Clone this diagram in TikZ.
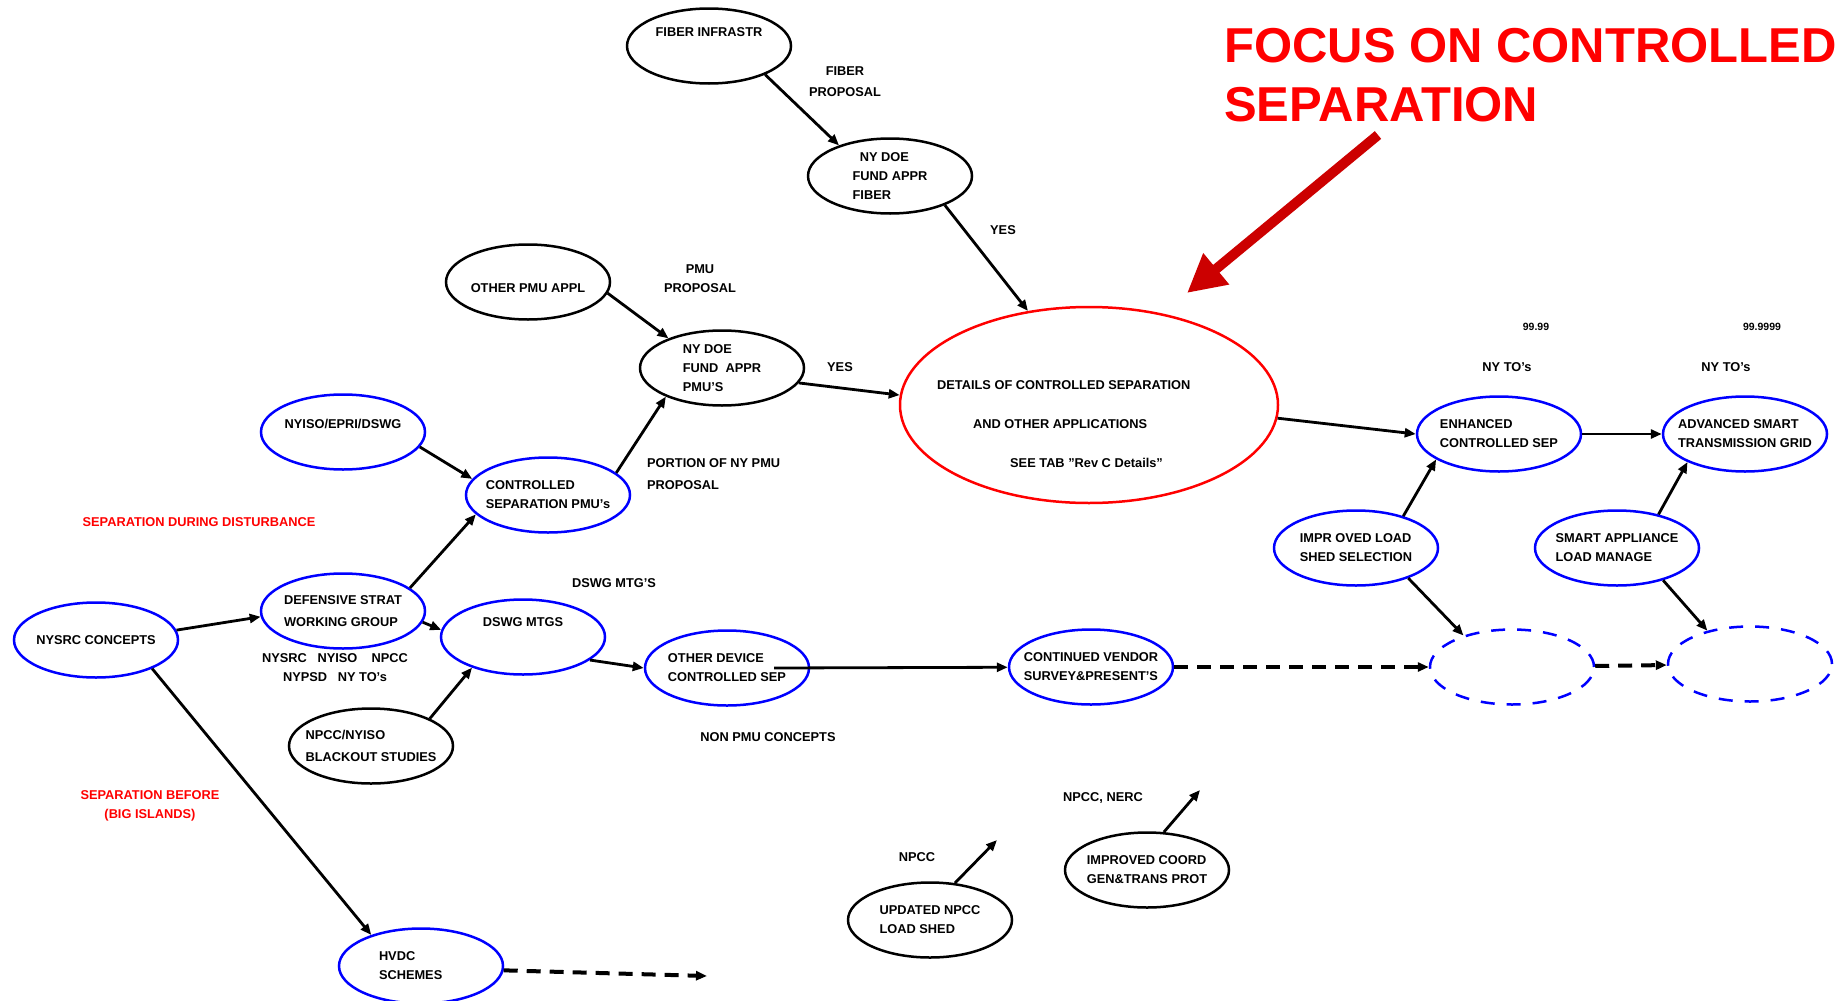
\documentclass[tikz,border=0pt]{standalone}
\usepackage{fontspec}
\setmainfont{Liberation Sans}
\usepackage{tikz}
\usetikzlibrary{arrows.meta,shapes.geometric}
\definecolor{focusred}{RGB}{204,0,0}

\begin{document}
\begin{tikzpicture}[x=1pt,y=-1pt,
    every node/.style={font=\fontsize{12.8}{19}\selectfont\bfseries},
    oval/.style={ellipse,draw,line width=2.5pt,minimum width=164pt,minimum height=75pt,inner xsep=-14pt,inner ysep=0pt,align=left},
    bluoval/.style={oval,draw=blue},
    ghost/.style={oval,draw=blue,dash pattern=on 14pt off 12pt},
    arr/.style={-{Triangle[length=11pt,width=9pt]},line width=2.8pt},
    dasharr/.style={arr,line width=4pt,dash pattern=on 14pt off 9pt},
    note/.style={align=center,inner sep=0pt},
    rednote/.style={note,text=red}]
            \useasboundingbox (0,0) rectangle (1839,1001);

            % top branch
            \node[oval,text depth=27pt] (fib) at (709,46) {FIBER INFRASTR};
            \node[oval] (doef) at (890,176) {\ \ NY DOE\\FUND APPR\\FIBER};
            \node[oval,text height=21pt] (opmu) at (528,282) {OTHER PMU APPL};
            \node[oval] (doep) at (722,368) {NY DOE\\FUND\ \ APPR\\PMU'S};
            \node[bluoval] (csp) at (548,495) {CONTROLLED\\SEPARATION PMU's};
            \node[bluoval,text depth=16pt] (nyiso) at (343,432) {NYISO/EPRI/DSWG};

            % left side
            \node[bluoval] (dsw) at (343,611) {DEFENSIVE STRAT\\[3pt]WORKING GROUP};
            \node[bluoval] (nysrc) at (96,640) {NYSRC CONCEPTS};
            \node[bluoval,text depth=30pt] (dswg) at (523,637) {DSWG MTGS};
            \node[oval] (blk) at (371,746) {NPCC/NYISO\\[3pt]BLACKOUT STUDIES};
            \node[bluoval,text width=84pt] (hvdc) at (421,966) {HVDC\\SCHEMES};
            \node[bluoval] (odev) at (727,668) {OTHER DEVICE\\CONTROLLED SEP};
            \node[bluoval] (cven) at (1091,667) {CONTINUED VENDOR\\SURVEY\&PRESENT'S};

            % centre
            \node[ellipse,draw=red,line width=2.5pt,minimum width=378pt,minimum height=196pt] (det) at (1089,405) {};
            \node[note,align=left,anchor=west] (dett) at (937,424) {DETAILS OF CONTROLLED SEPARATION\\[20pt]\hspace*{36pt}AND OTHER APPLICATIONS\\[20pt]\hspace*{73pt}SEE TAB "Rev C Details"};

            % right side
            \node[bluoval] (enh) at (1499,434) {ENHANCED\\CONTROLLED SEP};
            \node[bluoval] (adv) at (1745,434) {ADVANCED SMART\\TRANSMISSION GRID};
            \node[bluoval] (impr) at (1356,548) {IMPR OVED LOAD\\SHED SELECTION};
            \node[bluoval] (smart) at (1617,548) {SMART APPLIANCE\\LOAD MANAGE};
            \node[ghost] (dash1) at (1512,667) {};
            \node[ghost] (dash2) at (1750,664) {};

            % bottom
            \node[oval] (upd) at (930,920) {UPDATED NPCC\\LOAD SHED};
            \node[oval] (coord) at (1147,870) {IMPROVED COORD\\GEN\&TRANS PROT};

            \node[note] (fibprop) at (845,82) {FIBER\\[2pt]PROPOSAL};
            \node[note] (yes1) at (1003,230) {YES};
            \node[note] (pmuprop) at (700,279) {PMU\\PROPOSAL};
            \node[note] (yes2) at (840,367) {YES};
            \node[note,align=left,anchor=west] (portion) at (647,474) {PORTION OF NY PMU\\[3pt]PROPOSAL};
            \node[rednote] (sepdur) at (199,522) {SEPARATION DURING DISTURBANCE};
            \node[note] (members) at (335,668) {NYSRC\ \ \ NYISO\ \ \ \ NPCC\\NYPSD\ \ \ NY TO's};
            \node[note] (mtgs) at (614,583) {DSWG MTG'S};
            \node[note] (nonpmu) at (768,737) {NON PMU CONCEPTS};
            \node[rednote] (sepbef) at (150,806) {SEPARATION BEFORE\\(BIG ISLANDS)};
            \node[note] (npcc) at (917,857) {NPCC};
            \node[note] (npccnerc) at (1103,798) {NPCC, NERC};
            \node[note,font=\fontsize{10.5}{12}\selectfont\bfseries] (rel1) at (1536,327) {99.99};
            \node[note,font=\fontsize{10.5}{12}\selectfont\bfseries] (rel2) at (1762,327) {99.9999};
            \node[note] (tos1) at (1507,367) {NY TO's};
            \node[note] (tos2) at (1726,367) {NY TO's};

            \node[anchor=north west,inner sep=0pt,align=left,text=red,font=\fontsize{49}{59}\selectfont\bfseries] (focus) at (1224,28) {FOCUS ON CONTROLLED\\SEPARATION};
            \coordinate (ftail) at (1378,135);
            \coordinate (ftip) at (1187,293);
            \coordinate (npccend) at (997,840);
            \coordinate (nercend) at (1200,790);
            \coordinate (hvdcend) at (707,976);

            \draw[arr] (fib.-27) -- (doef.149);
            \draw[arr] (doef.-28) -- (det.123);
            \draw[arr] (opmu.-8) -- (doep.151);
            \draw[arr] (csp.18) -- (doep.207);
            \draw[arr] (doep.-11) -- (det.177);
            \draw[arr] (nyiso.-11) -- (csp.168);
            \draw[arr] (dsw.19) -- (csp.195);
            \draw[arr] (dsw.-8) -- (dswg.175);
            \draw[arr] (nysrc.7) -- (dsw.184);
            \draw[arr] (nysrc.-27) -- (hvdc.148);
            \draw[arr] (blk.25) -- (dswg.211);
            \draw[arr] (dswg.-19) -- (odev.180);
            \draw[arr] ([xshift=47pt]odev.center) -- (cven);
            \draw[dasharr] (cven) -- (dash1);
            \draw[dasharr] (dash1) -- (dash2);
            \draw[arr] (det.-4) -- (enh.180);
            \draw[arr] (enh) -- (adv);
            \draw[arr] (impr.34) -- (enh.202);
            \draw[arr] (impr.-30) -- (dash1.147);
            \draw[arr] (smart.39) -- (adv.206);
            \draw[arr] (smart.-35) -- (dash2.142);
            \draw[arr] (upd.56) -- (npccend);
            \draw[arr] (coord.66) -- (nercend);
            \draw[dasharr] (hvdc.-3) -- (hvdcend);

            \draw[focusred,line width=10pt,-{Triangle[length=38pt,width=38pt]}] (ftail) -- (ftip);
        \end{tikzpicture}
\end{document}
